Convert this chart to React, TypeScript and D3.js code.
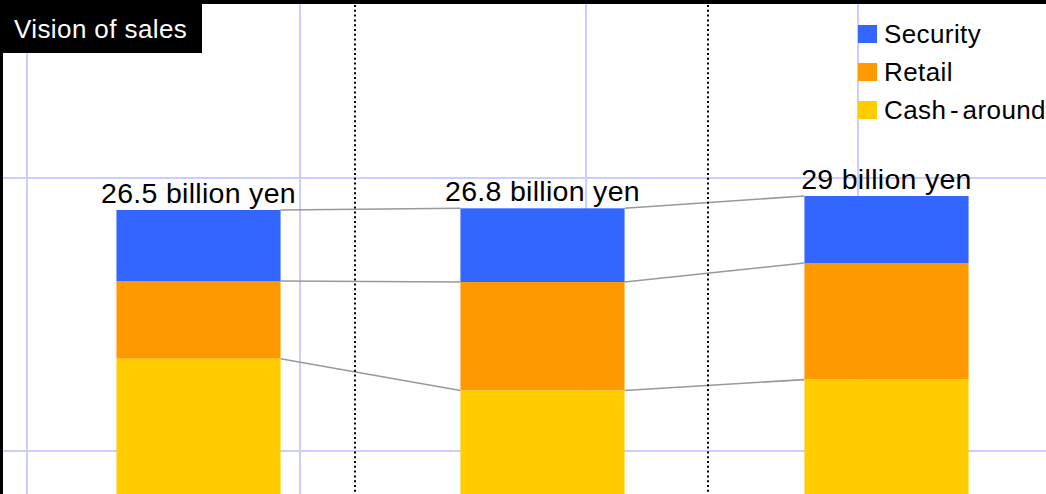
import React from "react";
import * as d3 from "d3";

// Sales vision: three stacked bars (billion yen)
const periods = ["FY1", "FY2", "FY3"];
const totals = [26.5, 26.8, 29];
const security = [5.3, 5.5, 5.0];
const retail = [5.8, 8.1, 8.7];
const cashAround = totals.map((t, i) => +(t - security[i] - retail[i]).toFixed(1));

const seriesNames = ["Security", "Retail", "Cash - around"];
const seriesColors = ["#3366ff", "#ff9900", "#ffcc00"];
const labelSuffix = " billion yen";

const W = 1046;
const H = 494;

export default function App() {
  const x = d3.scaleBand<string>().domain(periods).range([27, 1058]).paddingInner(1 - 164 / 343.7).paddingOuter(0.26);
  // bar top follows the total on a truncated axis
  const yTop = d3.scaleLinear().domain([25, 30]).range([218.4, 190.4]);
  // segment thickness
  const seg = d3.scaleLinear().domain([0, 10]).range([0, 134]);

  const stacks = periods.map((p, i) => {
    const vals = [security[i], retail[i], cashAround[i]];
    const top = yTop(totals[i]);
    let acc = 0;
    const parts = vals.map((v, k) => {
      const y0 = top + seg(acc);
      acc += v;
      const y1 = top + seg(acc);
      return { y0, y1, color: seriesColors[k] };
    });
    return { p, top, parts, x0: x(p)!, x1: x(p)! + x.bandwidth() };
  });

  const vGrid = [27, 300, 586, 858];
  const hGrid = [178, 451];
  const dividers = [355, 708];
  const font = "'Liberation Sans', Arial, sans-serif";

  return (
    <svg width={W} height={H} style={{ position: "absolute", left: 0, top: 0, display: "block" }}>
      <rect x={0} y={0} width={W} height={H} fill="#ffffff" />
      <g stroke="#ccccff" strokeWidth={2}>
        {vGrid.map((gx) => (
          <line key={"v" + gx} x1={gx} x2={gx} y1={0} y2={H} />
        ))}
        {hGrid.map((gy) => (
          <line key={"h" + gy} x1={0} x2={W} y1={gy} y2={gy} />
        ))}
      </g>
      <g stroke="#999999" strokeWidth={1.6} fill="none">
        {stacks.slice(0, -1).map((s, i) => {
          const n = stacks[i + 1];
          const ys = [s.top, s.parts[0].y1, s.parts[1].y1];
          const ns = [n.top, n.parts[0].y1, n.parts[1].y1];
          return ys.map((yy, k) => (
            <line key={i + "-" + k} x1={s.x1} y1={yy} x2={n.x0} y2={ns[k]} />
          ));
        })}
      </g>
      <g stroke="#000000" strokeWidth={2} strokeDasharray="2 2.8">
        {dividers.map((dx) => (
          <line key={dx} x1={dx} x2={dx} y1={5} y2={H} />
        ))}
      </g>
      {stacks.map((s) => (
        <g key={s.p}>
          {s.parts.map((pt, k) => (
            <rect key={k} x={s.x0} y={pt.y0} width={s.x1 - s.x0} height={pt.y1 - pt.y0} fill={pt.color} />
          ))}
        </g>
      ))}
      <g fontFamily={font} fontSize={28.5} fill="#000000" textAnchor="middle" letterSpacing={0.3}>
        {stacks.map((s, i) => (
          <text key={s.p} x={(s.x0 + s.x1) / 2} y={s.top - 7.5}>
            {totals[i] + labelSuffix}
          </text>
        ))}
      </g>
      <g fontFamily={font} fontSize={26} fill="#000000" letterSpacing={0.4} wordSpacing={-4}>
        {seriesNames.map((name, k) => (
          <g key={name} transform={`translate(858, ${25 + k * 38})`}>
            <rect x={0} y={0} width={19} height={18} fill={seriesColors[k]} />
            <text x={26} y={17.5}>{name}</text>
          </g>
        ))}
      </g>
      <rect x={0} y={0} width={W} height={4} fill="#000000" />
      <rect x={0} y={0} width={3} height={H} fill="#000000" />
      <rect x={0} y={0} width={202} height={53} fill="#000000" />
      <text x={14} y={38} fontFamily={font} fontSize={26} fill="#ffffff" letterSpacing={0.4}>
        Vision of sales
      </text>
    </svg>
  );
}
